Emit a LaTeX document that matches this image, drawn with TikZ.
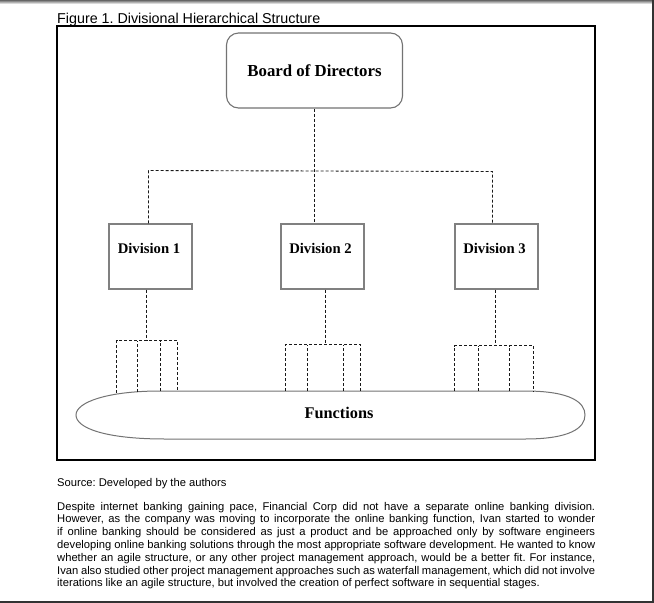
\documentclass[tikz,border=0pt]{standalone}
\usepackage{fontspec}
\setmainfont{Liberation Serif}
\newfontfamily\arialfont{Liberation Sans}
\begin{document}
\frenchspacing
\begin{tikzpicture}[x=1pt,y=-1pt,
  dline/.style={draw=black!90, line width=0.9pt, dash pattern=on 3pt off 2pt},
  divbox/.style={draw=black!50, line width=1.1pt, fill=white, minimum width=83pt, minimum height=65pt, inner sep=0pt},
  boardbox/.style={draw=black!55, line width=1.1pt, fill=white, rounded corners=12pt, minimum width=176pt, minimum height=75pt, inner sep=0pt, font=\fontsize{16.8}{19}\selectfont\bfseries},
  divtext/.style={font=\fontsize{14.7}{17}\selectfont\bfseries, inner sep=0pt},
  functext/.style={font=\fontsize{16.3}{19}\selectfont\bfseries, inner sep=0pt},
  plaintext/.style={anchor=base west, inner sep=0pt, font=\arialfont\fontsize{11.2}{13}\selectfont},
  titletext/.style={anchor=base west, inner sep=0pt, font=\arialfont\fontsize{14.3}{17}\selectfont},
  frame/.style={draw=black, line width=1.3pt}
]
\useasboundingbox (0,0) rectangle (654,603);
% screen edges
\shade[top color=black!60, bottom color=white] (0,0) rectangle (654,4);
\fill[black!80] (651.5,0) rectangle (654,603);
\fill[black!80] (0,600.5) rectangle (654,603);

% title and frame
\node[titletext] (title) at (57,23) {Figure 1. Divisional Hierarchical Structure};
\draw[frame] (57,26) rectangle (595,460);

% board
\node[boardbox] (board) at (314.5,70.5) {Board of Directors};

% divisions
\node[divbox] (div1) at (150.5,256.5) {};
\node[divbox] (div2) at (322.5,256.5) {};
\node[divbox] (div3) at (496.5,256.5) {};
\node[divtext] (d1t) at ([xshift=-1.5pt,yshift=-25pt]div1.north) {Division 1};
\node[divtext] (d2t) at ([xshift=-2pt,yshift=-25pt]div2.north) {Division 2};
\node[divtext] (d3t) at ([xshift=-2pt,yshift=-25pt]div3.north) {Division 3};

% board to divisions
\coordinate (h1) at (148.5,170.5);
\coordinate (h3) at (492.5,171.5);
\draw[dline] (board.south) -- (board.south |- div2.north);
\draw[dline] (div1.north -| h1) -- (h1) -- (h3) -- (div3.north -| h3);

% functions shape
\draw[draw=black!55, line width=1pt, fill=white]
  (160,391) -- (525,391) .. controls (572,391) and (585,403) .. (585,415)
  .. controls (585,428) and (570,439) .. (525,439) -- (165,439)
  .. controls (105,439) and (76,428) .. (76,415)
  .. controls (76,402) and (108,391) .. (160,391) -- cycle;
\node[functext] (func) at (339,413) {Functions};

% division 1 branches
\coordinate (s1) at (146.5,340.5);
\draw[dline] (div1.south -| s1) -- (s1);
\coordinate (a11) at (116.5,393); \coordinate (a12) at (137.5,391.5);
\coordinate (a13) at (160.5,391); \coordinate (a14) at (177.5,391);
\draw[dline] (a11) |- (s1) -| (a14);
\draw[dline] (a12) -- (a12 |- s1);
\draw[dline] (a13) -- (a13 |- s1);

% division 2 branches
\coordinate (s2) at (325.5,344.5);
\draw[dline] (div2.south -| s2) -- (s2);
\coordinate (a21) at (285.5,391); \coordinate (a22) at (307.5,391);
\coordinate (a23) at (343.5,391); \coordinate (a24) at (360.5,391);
\draw[dline] (a21) |- (s2) -| (a24);
\draw[dline] (a22) -- (a22 |- s2);
\draw[dline] (a23) -- (a23 |- s2);

% division 3 branches
\coordinate (s3) at (495.5,345.5);
\draw[dline] (div3.south -| s3) -- (s3);
\coordinate (a31) at (454.5,391); \coordinate (a32) at (478.5,391);
\coordinate (a33) at (509.5,391); \coordinate (a34) at (533.5,392);
\draw[dline] (a31) |- (s3) -| (a34);
\draw[dline] (a32) -- (a32 |- s3);
\draw[dline] (a33) -- (a33 |- s3);

% text below
\node[plaintext] (src) at (57,486) {Source: Developed by the authors};
\node[plaintext] (p1) at (57,510) {\makebox[538pt][s]{Despite internet banking gaining pace, Financial Corp did not have a separate online banking division.}};
\node[plaintext] (p2) at (57,522.8) {\makebox[538pt][s]{However, as the company was moving to incorporate the online banking function, Ivan started to wonder}};
\node[plaintext] (p3) at (57,535.6) {\makebox[538pt][s]{if online banking should be considered as just a product and be approached only by software engineers}};
\node[plaintext] (p4) at (57,548.4) {\makebox[538pt][s]{developing online banking solutions through the most appropriate software development. He wanted to know}};
\node[plaintext] (p5) at (57,561.2) {\makebox[538pt][s]{whether an agile structure, or any other project management approach, would be a better fit. For instance,}};
\node[plaintext] (p6) at (57,574) {\makebox[538pt][s]{Ivan also studied other project management approaches such as waterfall management, which did not involve}};
\node[plaintext] (p7) at (57,586.8) {iterations like an agile structure, but involved the creation of perfect software in sequential stages.};
\end{tikzpicture}
\end{document}
